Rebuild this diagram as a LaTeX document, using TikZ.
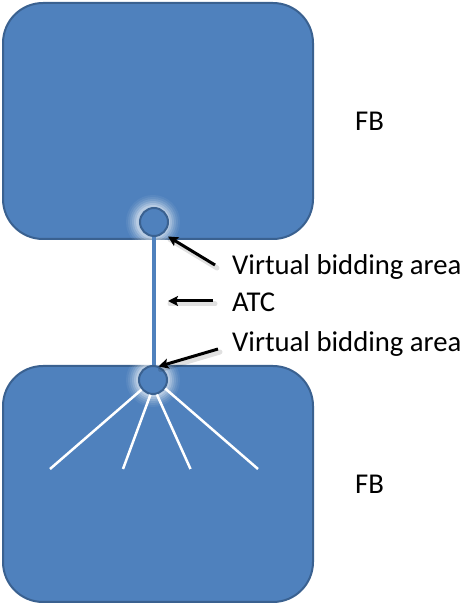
\documentclass[tikz,border=0pt]{standalone}
\usepackage{fontspec}
\setmainfont{Carlito}
\usetikzlibrary{arrows.meta}
\definecolor{fbfill}{HTML}{4F81BD}
\definecolor{fbline}{HTML}{3A6190}
\begin{document}
\begin{tikzpicture}[x=1pt,y=1pt,
  fbbox/.style={draw=fbline,line width=2pt,fill=fbfill,rounded corners=40pt},
  area/.style={circle,draw=fbline,line width=2pt,fill=fbfill,minimum size=28pt,inner sep=0pt},
  lbl/.style={anchor=base west,inner sep=0pt,font=\fontsize{28.7}{32}\selectfont},
  pointer/.style={draw=black,line width=3pt,-{Stealth[length=10pt,width=10pt,inset=2pt]}},
  pshadow/.style={draw=black,opacity=0.12,line width=5pt,line cap=round},
  ray/.style={draw=white,line width=2.5pt}]
\useasboundingbox (0,0) rectangle (466,603);
% boxes
\draw[fbbox] (3,364) rectangle (313,600);
\draw[fbbox] (3,1) rectangle (313,237);
% glows
\foreach \r/\o in {27/0.06,25/0.08,23/0.11,21/0.15,19/0.2,17/0.25} {
  \fill[white,opacity=\o] (153,223) circle (\r);
  \fill[white,opacity=\o] (153,381) circle (\r);
}
% ATC line
\draw[fbfill,line width=4pt] (154,603-236) -- (154,603-366);
\node[area] (top) at (154,603-222) {};
\node[area] (bot) at (153,603-380) {};
% rays
\coordinate (r1) at (50,603-469);
\coordinate (r2) at (123,603-469);
\coordinate (r3) at (190.5,603-469);
\coordinate (r4) at (258,603-469);
\draw[ray] (bot.-140) -- (r1);
\draw[ray] (bot.-100) -- (r2);
\draw[ray] (bot.-75) -- (r3);
\draw[ray] (bot.-35) -- (r4);
% labels
\node[lbl] (fb1) at (355,603-130.7) {FB};
\node[lbl] (fb2) at (355,603-494) {FB};
\node[lbl] (v1) at (232,603-275) {Virtual bidding area};
\node[lbl] (atc) at (232,603-311.7) {ATC};
\node[lbl] (v2) at (232,603-351.7) {Virtual bidding area};
% pointers
\coordinate (p1) at (215,603-265);
\coordinate (p1t) at (168,603-236.5);
\coordinate (p2) at (213,603-301);
\coordinate (p2t) at (168,603-301);
\coordinate (p3) at (218,603-349);
\coordinate (p3t) at (158.5,603-366.5);
\draw[pshadow] ([shift={(2,-3)}]p1) -- ([shift={(2,-3)}]p1t);
\draw[pshadow] ([shift={(2,-3)}]p2) -- ([shift={(2,-3)}]p2t);
\draw[pshadow] ([shift={(2,-3)}]p3) -- ([shift={(2,-3)}]p3t);
\draw[pointer] (p1) -- (p1t);
\draw[pointer] (p2) -- (p2t);
\draw[pointer] (p3) -- (p3t);
\end{tikzpicture}
\end{document}
